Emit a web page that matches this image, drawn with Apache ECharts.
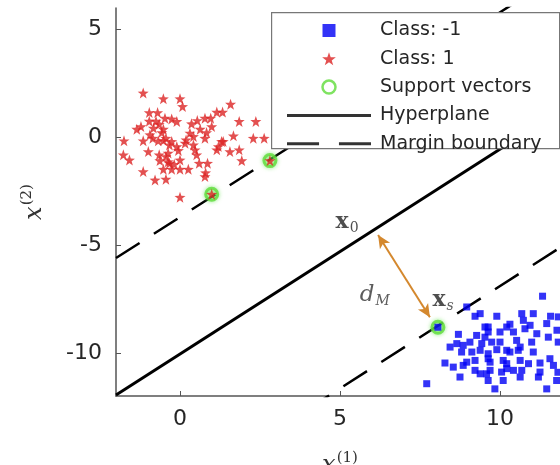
<!DOCTYPE html>
<html>
<head>
<meta charset="utf-8">
<script src="https://cdn.jsdelivr.net/npm/echarts@6.0.0/dist/echarts.min.js"></script>
<style>
  html, body { margin: 0; padding: 0; background: #fff; }
  #chart { width: 560px; height: 465px; }
</style>
</head>
<body>
<div id="chart"></div>
<script>
// ---- data ----
const classNeg = [
  [8.96,-7.87],[9.38,-8.18],[9.22,-8.30],[9.90,-8.30],[11.33,-7.37],[10.68,-8.18],[11.04,-8.18],
  [10.73,-8.49],[11.58,-8.30],[11.46,-8.64],[9.63,-8.80],[10.31,-8.67],[10.21,-8.80],[10.94,-8.72],
  [9.63,-9.03],[10.0,-9.03],[9.53,-9.27],[9.27,-9.19],[8.70,-9.14],[8.65,-9.57],[8.44,-9.73],
  [9.06,-9.50],[9.43,-9.57],[9.74,-9.50],[10.0,-9.50],[10.52,-9.42],[10.99,-9.50],[11.15,-9.11],
  [11.51,-9.27],[11.82,-9.50],[8.80,-9.96],[9.12,-9.96],[9.38,-9.88],[9.63,-10.04],[9.90,-9.85],
  [10.21,-9.88],[10.57,-9.88],[11.04,-9.96],[11.56,-10.27],[8.28,-10.47],[8.54,-10.66],[8.96,-10.43],
  [9.22,-10.35],[9.69,-10.43],[10.10,-10.35],[10.63,-10.35],[10.89,-10.50],[11.25,-10.47],[11.67,-10.58],
  [9.22,-10.81],[9.58,-10.97],[10.21,-10.73],[10.68,-10.81],[8.75,-11.12],[9.63,-11.28],[10.10,-11.28],
  [7.71,-11.43],[9.84,-11.67],[11.46,-11.67],[11.77,-11.28],[11.78,-8.95],[11.81,-10.9],[8.06,-8.81],
  [11.82,-8.33],[9.53,-8.80],[10.42,-9.03],[8.85,-9.65],[10.31,-9.96],[10.63,-9.73],[9.63,-10.27],
  [10.21,-10.50],[8.85,-10.58],[9.38,-10.97],[9.69,-10.81],[10.05,-10.89],[10.42,-10.81],[11.25,-10.89],
  [10.63,-11.12],[11.2,-11.12],[10.78,-8.88]
];
const classPos = [
  [-1.15,2.06],[-0.52,1.79],[0.0,1.79],[0.08,1.43],[1.58,1.54],[-0.96,1.15],[-0.70,1.15],[1.15,1.17],
  [1.33,1.17],[-0.96,0.75],[-0.75,0.75],[-0.47,0.89],[-0.26,0.85],[-0.10,0.74],[0.54,0.78],[0.78,0.89],
  [0.96,0.89],[0.36,0.63],[1.85,0.74],[2.37,0.74],[-1.35,0.38],[-1.22,0.50],[-0.83,0.43],[-0.52,0.38],
  [0.63,0.38],[0.99,0.50],[-0.94,0.12],[-0.57,0.22],[0.31,0.20],[0.83,0.22],[-1.75,-0.16],[-1.15,-0.16],
  [-0.85,-0.04],[-0.68,-0.16],[-0.52,-0.15],[-0.26,-0.19],[0.19,-0.12],[0.42,0.04],[0.78,-0.04],[1.30,-0.19],
  [1.67,0.07],[2.29,-0.04],[2.63,-0.04],[-0.33,-0.35],[-0.10,-0.43],[0.16,-0.27],[0.42,-0.35],[1.20,-0.43],
  [1.35,-0.19],[-0.99,-0.66],[-1.77,-0.81],[-1.58,-1.05],[-0.65,-0.81],[-0.37,-0.73],[-0.05,-0.61],[0.47,-0.58],
  [0.52,-0.81],[1.15,-0.58],[1.56,-0.66],[1.85,-0.58],[-0.63,-1.08],[-0.37,-1.13],[0.0,-1.05],[0.60,-1.20],
  [0.86,-1.20],[1.93,-1.08],[-1.15,-1.59],[-0.52,-1.48],[-0.26,-1.48],[0.0,-1.48],[0.26,-1.48],[0.80,-1.64],
  [-0.78,-1.98],[-0.44,-1.94],[0.78,-1.82],[0.0,-2.78],[0.99,-2.64],[2.81,-1.08],
  [-0.65,0.61],[-0.44,-0.04],[-0.44,-0.89],[-0.33,-1.20],[-0.18,-1.25]
];
const supportVectors = [[0.99,-2.64],[2.81,-1.08],[8.06,-8.81]];
// lines: y = slope * x + intercept
const lineSlope = 0.95;
const hyperplaneIntercept = -10.05;
const marginIntercepts = [-3.7, -16.4];
const xRange = [-2, 12];
const yRange = [-12, 6];
const xTicks = [0, 5, 10];
const yTicks = [-10, -5, 0, 5];
const arrowStart = [6.19, -4.53];
const arrowEnd = [7.81, -8.35];
const annotationPos = [[5.22, -3.93], [6.09, -7.33], [8.22, -7.56]];
const annotationText = ['{b|x}{sub|0}', '{i|d}{isub|M}', '{b|x}{isub|s}'];

// ---- build ----
function linePts(b) {
  return [[xRange[0], lineSlope * xRange[0] + b], [xRange[1], lineSlope * xRange[1] + b]];
}
const starPath = 'path://M0,-10L2.35,-3.24L9.51,-3.09L3.8,1.24L5.88,8.09L0,4L-5.88,8.09L-3.8,1.24L-9.51,-3.09L-2.35,-3.24Z';
const squarePath = 'path://M0,0H10V10H0Z';
const solidIcon = 'path://M0,0H84V3H0Z';
const dashIcon = 'path://M0,0H29V2.6H0Z M47,0H76V2.6H47Z';
const textColor = '#262626';
const axisColor = '#555';
const green = '#5fdc3a';
const nameRich = {
  i: { fontFamily: 'DejaVu Serif', fontStyle: 'italic', fontSize: 24, color: '#333' },
  s: { fontFamily: 'DejaVu Serif', fontSize: 15, color: '#333', padding: [0, 0, 14, 1] }
};

const chart = echarts.init(document.getElementById('chart'), null, { renderer: 'canvas' });
chart.setOption({
  animation: false,
  backgroundColor: '#fff',
  grid: { left: 116, top: 8, width: 448, height: 388, outerBoundsMode: 'none', containLabel: false },
  xAxis: {
    type: 'value', min: xRange[0], max: xRange[1],
    axisLine: { onZero: false, lineStyle: { color: axisColor, width: 1.5 } },
    axisTick: { inside: true, length: 5, customValues: xTicks, lineStyle: { color: axisColor } },
    axisLabel: { customValues: xTicks, margin: 12, fontSize: 22, fontFamily: 'DejaVu Sans', color: textColor },
    splitLine: { show: false },
    name: '{i|x}{s|(1)}', nameLocation: 'middle', nameGap: 55,
    nameTextStyle: { rich: nameRich }
  },
  yAxis: {
    type: 'value', min: yRange[0], max: yRange[1],
    axisLine: { onZero: false, lineStyle: { color: axisColor, width: 1.5 } },
    axisTick: { inside: true, length: 5, customValues: yTicks, lineStyle: { color: axisColor } },
    axisLabel: { customValues: yTicks, margin: 14, fontSize: 22, fontFamily: 'DejaVu Sans', color: textColor },
    splitLine: { show: false },
    name: '{i|x}{s|(2)}', nameLocation: 'middle', nameGap: 67, nameRotate: 90,
    nameTextStyle: { rich: nameRich }
  },
  graphic: [{
    type: 'rect', left: 271, top: 12, z: 10,
    shape: { width: 288, height: 136 },
    style: { fill: '#fff', stroke: '#777', lineWidth: 1.2 }
  }],
  legend: {
    orient: 'vertical', left: 287, top: 21, padding: 0, z: 20,
    itemWidth: 84, itemHeight: 13, itemGap: 9.3,
    textStyle: { fontSize: 19, fontFamily: 'DejaVu Sans', color: textColor, lineHeight: 16, padding: [0, 0, 0, 4] },
    selectedMode: false,
    data: [
      { name: 'Class: -1', icon: squarePath },
      { name: 'Class: 1', icon: starPath },
      { name: 'Support vectors', icon: 'circle', itemStyle: { color: '#fff', borderColor: green, borderWidth: 2.5 } },
      { name: 'Hyperplane', icon: solidIcon },
      { name: 'Margin boundary', icon: dashIcon }
    ]
  },
  series: [
    // legend stand-ins for the two line styles (no data)
    { name: 'Hyperplane', type: 'scatter', data: [], itemStyle: { color: '#000' } },
    { name: 'Margin boundary', type: 'scatter', data: [], itemStyle: { color: '#000' } },
    {
      name: 'Hyperplane', type: 'line', data: linePts(hyperplaneIntercept),
      symbol: 'none', showSymbol: false, z: 2,
      lineStyle: { color: '#000', width: 3 }, itemStyle: { color: '#000' }
    },
    {
      name: 'Margin boundary', type: 'line', data: linePts(marginIntercepts[0]),
      symbol: 'none', showSymbol: false, z: 2,
      lineStyle: { color: '#000', width: 2.5, type: [28, 17] }, itemStyle: { color: '#000' }
    },
    {
      name: 'Margin boundary', type: 'line', data: linePts(marginIntercepts[1]),
      symbol: 'none', showSymbol: false, z: 2,
      lineStyle: { color: '#000', width: 2.5, type: [28, 17] }, itemStyle: { color: '#000' }
    },
    {
      name: 'Support vectors', type: 'scatter', data: supportVectors, z: 3,
      symbol: 'circle', symbolSize: 12,
      itemStyle: { color: 'rgba(120,230,90,0.35)', borderColor: green, borderWidth: 3, shadowBlur: 4, shadowColor: 'rgba(100,230,80,0.8)' }
    },
    {
      name: 'Class: -1', type: 'scatter', data: classNeg, z: 4,
      symbol: 'rect', symbolSize: 7,
      itemStyle: { color: '#0000f5' }
    },
    {
      name: 'Class: 1', type: 'scatter', data: classPos, z: 4,
      symbol: starPath, symbolSize: 11,
      itemStyle: { color: '#dc2424' }
    },
    {
      name: 'annotations', type: 'scatter', z: 5, silent: true,
      data: annotationPos.map((p, i) => ({ value: p, label: { formatter: annotationText[i] } })),
      symbol: 'circle', symbolSize: 1, itemStyle: { color: 'rgba(0,0,0,0)' },
      label: {
        show: true, position: 'inside',
        rich: {
          b: { fontFamily: 'DejaVu Serif', fontWeight: 'bold', fontSize: 22, color: '#222' },
          sub: { fontFamily: 'DejaVu Serif', fontSize: 14, color: '#222', padding: [12, 0, 0, 1] },
          i: { fontFamily: 'DejaVu Serif', fontStyle: 'italic', fontSize: 23, color: '#333' },
          isub: { fontFamily: 'DejaVu Serif', fontStyle: 'italic', fontSize: 14, color: '#333', padding: [12, 0, 0, 1] }
        }
      },
      markLine: {
        silent: true, animation: false,
        symbol: ['arrow', 'arrow'], symbolSize: [9, 13],
        label: { show: false },
        lineStyle: { color: '#d4882e', width: 2, type: 'solid' },
        data: [[{ coord: arrowStart }, { coord: arrowEnd }]]
      }
    }
  ]
});
</script>
</body>
</html>
